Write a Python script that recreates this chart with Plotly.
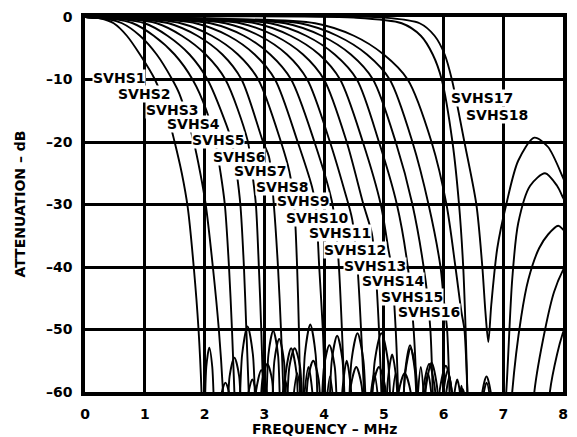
import plotly.graph_objects as go

# ---- axis ticks ----
FREQ_TICKS = [0, 1, 2, 3, 4, 5, 6, 7, 8]
ATT_TICKS = [-60, -50, -40, -30, -20, -10, 0]
ATT_TICK_LABELS = ["–60", "–50", "–40", "–30", "–20", "–10", "0"]

# ---- curve names ----
NAMES = ["SVHS%d" % i for i in range(1, 19)]

# ---- series: frequency (MHz) and attenuation (dB) ----
F1 = [0, 0.25, 0.48, 0.70, 0.92, 1.17, 1.35, 1.50, 1.62, 1.72, 1.82, 1.90, 1.95, 1.98, 2.03, 2.08, 2.13, 2.20, 2.27, 2.35, 2.43, 2.50]
DB1 = [0, -0.2, -1, -3, -6, -10, -14.5, -20, -25, -30.5, -40, -50, -60, -72, -56, -52.9, -56, -72, -61, -58.5, -61, -72]

F2 = [0, 0.35, 0.62, 0.92, 1.20, 1.46, 1.58, 1.82, 1.93, 2.02, 2.14, 2.24, 2.31, 2.36, 2.42, 2.50, 2.58, 2.64, 2.72, 2.80, 2.88, 2.94]
DB2 = [0, -0.3, -1, -3, -6, -10, -12.3, -20, -25, -30, -40, -50, -60, -72, -57.5, -54.5, -57.5, -72, -61, -58, -61, -72]

F3 = [0, 0.45, 0.80, 1.15, 1.50, 1.80, 2.03, 2.18, 2.27, 2.34, 2.41, 2.46, 2.50, 2.55, 2.63, 2.72, 2.81, 2.89, 2.97, 3.05, 3.13, 3.20, 3.28, 3.35, 3.42, 3.48]
DB3 = [0, -0.3, -1, -3, -6, -10, -14.9, -20, -25, -30, -40, -50, -60, -72, -54, -49.5, -54, -72, -58, -55.5, -58, -72, -62.5, -58, -62.5, -72]

F4 = [0, 0.55, 1.00, 1.38, 1.75, 2.05, 2.36, 2.46, 2.54, 2.60, 2.66, 2.70, 2.74, 2.78, 2.86, 2.95, 3.04, 3.10, 3.17, 3.25, 3.33, 3.40, 3.48, 3.55, 3.62, 3.68]
DB4 = [0, -0.3, -1, -3, -6, -10, -17.1, -20, -25, -30, -40, -50, -60, -72, -60, -56.5, -60, -72, -55, -51.5, -55, -72, -61.5, -57, -61.5, -72]

F5 = [0, 0.70, 1.20, 1.62, 2.02, 2.35, 2.72, 2.80, 2.86, 2.91, 2.95, 2.98, 3.01, 3.07, 3.15, 3.23, 3.29, 3.36, 3.45, 3.54, 3.60, 3.67, 3.74, 3.81, 3.86]
DB5 = [0, -0.3, -1, -3, -6, -10, -19.7, -25, -30, -40, -50, -60, -72, -54, -50.2, -54, -72, -57, -53, -57, -72, -60.5, -56, -60.5, -72]

F6 = [0, 0.85, 1.40, 1.88, 2.30, 2.62, 2.98, 3.08, 3.16, 3.23, 3.28, 3.32, 3.35, 3.42, 3.51, 3.60, 3.66, 3.73, 3.82, 3.91, 3.98, 4.04, 4.10, 4.16, 4.22]
DB6 = [0, -0.3, -1, -3, -6, -10, -20, -22.4, -30, -40, -50, -60, -72, -56, -53, -56, -72, -58, -55, -58, -72, -62, -57.5, -62, -72]

F7 = [0, 1.00, 1.60, 2.12, 2.56, 2.90, 3.28, 3.42, 3.50, 3.55, 3.58, 3.60, 3.62, 3.68, 3.77, 3.86, 3.92, 4.00, 4.09, 4.18, 4.25, 4.31, 4.38, 4.45, 4.50]
DB7 = [0, -0.3, -1, -3, -6, -10, -20, -24.7, -30, -40, -50, -60, -72, -54, -49.2, -54, -72, -56, -52.5, -56, -72, -59.5, -55, -59.5, -72]

F8 = [0, 1.15, 1.85, 2.40, 2.84, 3.18, 3.56, 3.80, 3.86, 3.92, 3.98, 4.02, 4.06, 4.13, 4.22, 4.31, 4.37, 4.45, 4.54, 4.63, 4.70, 4.77, 4.84, 4.91, 4.97]
DB8 = [0, -0.3, -1, -3, -6, -10, -20, -27.2, -30, -40, -50, -60, -72, -55, -51, -55, -72, -59, -56, -59, -72, -61.5, -57, -61.5, -72]

F9 = [0, 1.30, 2.10, 2.66, 3.10, 3.45, 3.84, 4.13, 4.20, 4.25, 4.30, 4.34, 4.38, 4.46, 4.56, 4.66, 4.74, 4.82, 4.92, 5.02, 5.08, 5.14, 5.20, 5.26, 5.32]
DB9 = [0, -0.3, -1, -3, -6, -10, -20, -29.4, -34, -40, -50, -60, -72, -55, -50.6, -55, -72, -59, -56, -59, -72, -61.5, -57, -61.5, -72]

F10 = [0, 1.45, 2.35, 2.92, 3.38, 3.72, 4.10, 4.35, 4.47, 4.56, 4.62, 4.67, 4.74, 4.85, 4.96, 5.07, 5.16, 5.25, 5.35, 5.45, 5.52, 5.57, 5.62, 5.67, 5.72]
DB10 = [0, -0.3, -1, -3, -6, -10, -20, -28, -32.3, -40, -50, -60, -72, -55, -50.6, -55, -72, -60, -57, -60, -72, -60.5, -56, -60.5, -72]

F11 = [0, 1.60, 2.60, 3.18, 3.65, 4.00, 4.38, 4.66, 4.80, 4.86, 4.92, 4.96, 5.00, 5.07, 5.14, 5.21, 5.28, 5.36, 5.44, 5.52, 5.60, 5.67, 5.74, 5.81, 5.86]
DB11 = [0, -0.3, -1, -3, -6, -10, -20, -30, -34.6, -40, -50, -60, -72, -58, -54, -58, -72, -56.5, -52.5, -56.5, -72, -61.5, -57, -61.5, -72]

F12 = [0, 1.75, 2.85, 3.44, 3.92, 4.27, 4.65, 4.95, 5.08, 5.13, 5.20, 5.24, 5.27, 5.36, 5.45, 5.54, 5.62, 5.71, 5.80, 5.89, 5.96, 6.02, 6.10, 6.16, 6.22]
DB12 = [0, -0.3, -1, -3, -6, -10, -20, -30, -37.3, -40, -50, -60, -72, -57, -53, -57, -72, -59, -55.3, -59, -72, -62, -57.5, -62, -72]

F13 = [0, 1.90, 3.10, 3.70, 4.18, 4.55, 4.92, 5.22, 5.40, 5.50, 5.55, 5.58, 5.67, 5.76, 5.85, 5.94, 6.00, 6.07, 6.14, 6.22, 6.26, 6.30, 6.34, 6.38]
DB13 = [0, -0.3, -1, -3, -6, -10, -20, -30, -39.8, -50, -60, -72, -59, -55.5, -59, -72, -60, -56.5, -60, -72, -62, -59, -62, -72]

F14 = [0, 2.05, 3.35, 3.96, 4.45, 4.82, 5.20, 5.48, 5.70, 5.78, 5.82, 5.86, 5.94, 6.04, 6.13, 6.20, 6.26, 6.32, 6.38, 6.44, 7.70, 7.78, 7.90, 8.00, 8.10]
DB14 = [0, -0.3, -1, -3, -6, -10, -20, -30, -42.2, -50, -60, -72, -59.5, -55.8, -59.5, -72, -62, -59.5, -62, -72, -72, -60, -54, -50.5, -48]

F15 = [0, 2.20, 3.60, 4.22, 4.72, 5.10, 5.48, 5.75, 5.95, 6.00, 6.06, 6.10, 6.13, 6.18, 6.23, 6.28, 6.33, 7.45, 7.52, 7.70, 7.85, 8.00, 8.10]
DB15 = [0, -0.3, -1, -3, -6, -10, -20, -30, -40, -44.8, -50, -60, -72, -60.5, -58, -60.5, -72, -72, -60, -50, -44, -40.5, -39]

F16 = [0, 2.40, 3.85, 4.50, 5.00, 5.40, 5.80, 6.05, 6.20, 6.30, 6.35, 6.40, 6.44, 6.58, 6.65, 6.72, 6.79, 6.86, 7.08, 7.15, 7.30, 7.42, 7.60, 7.75, 7.92, 8.00, 8.10]
DB16 = [0, -0.3, -1, -3, -6, -10, -20, -30, -40, -47.2, -50, -60, -72, -72, -60, -57.5, -60, -72, -72, -60, -48, -42, -37, -34.8, -33.4, -34, -35]

F17 = [0, 4.50, 5.30, 5.62, 5.82, 5.97, 6.15, 6.26, 6.33, 6.37, 6.40, 6.43, 6.60, 6.66, 6.72, 6.78, 6.85, 6.95, 7.05, 7.15, 7.25, 7.45, 7.70, 7.90, 8.00, 8.10]
DB17 = [0, -0.1, -1, -3, -6, -10, -20, -30, -40, -50, -60, -72, -72, -61, -58.5, -61, -72, -72, -60, -42, -33, -27, -25, -27, -28.9, -31]

F18 = [0, 5.00, 5.60, 5.85, 6.02, 6.14, 6.35, 6.55, 6.65, 6.70, 6.75, 6.80, 6.90, 7.05, 7.25, 7.52, 7.75, 8.00, 8.10]
DB18 = [0, -0.1, -1, -3, -6, -10, -20, -30, -40, -47, -52, -46, -37, -30, -23, -19.3, -20.8, -25.7, -28]

FREQS = [F1, F2, F3, F4, F5, F6, F7, F8, F9, F10, F11, F12, F13, F14, F15, F16, F17, F18]
ATTS = [DB1, DB2, DB3, DB4, DB5, DB6, DB7, DB8, DB9, DB10, DB11, DB12, DB13, DB14, DB15, DB16, DB17, DB18]

# label placement (data coordinates of label centres)
LABEL_X = [0.57, 0.98, 1.45, 1.82, 2.22, 2.57, 2.93, 3.30, 3.65, 3.88, 4.27, 4.52, 4.86, 5.15, 5.47, 5.75, 6.65, 6.90]
LABEL_Y = [-9.7, -12.3, -14.9, -17.1, -19.7, -22.4, -24.7, -27.2, -29.4, -32.2, -34.6, -37.3, -39.8, -42.2, -44.8, -47.2, -13.0, -15.7]

FONT = "DejaVu Sans"

fig = go.Figure()
for name, f, a in zip(NAMES, FREQS, ATTS):
    fig.add_trace(go.Scatter(
        x=f, y=a, mode="lines", name=name,
        line=dict(color="black", width=1.9, shape="spline", smoothing=0.8),
        hoverinfo="skip", showlegend=False,
    ))

annotations = []
for name, lx, ly in zip(NAMES, LABEL_X, LABEL_Y):
    annotations.append(dict(
        x=lx, y=ly, xref="x", yref="y", text=name, showarrow=False,
        xanchor="center", yanchor="middle", bgcolor="white", borderpad=0,
        font=dict(family=FONT, size=14, color="black", weight="bold"),
    ))
annotations.append(dict(
    x=0.5, y=0, xref="paper", yref="paper", text="FREQUENCY – MHz", showarrow=False,
    xanchor="center", yanchor="top", yshift=-27,
    font=dict(family=FONT, size=14, color="black", weight="bold"),
))
annotations.append(dict(
    x=0, y=0.5, xref="paper", yref="paper", text="ATTENUATION – dB", showarrow=False,
    textangle=-90, xanchor="right", yanchor="middle", xshift=-56,
    font=dict(family=FONT, size=14, color="black", weight="bold"),
))

fig.update_layout(
    width=577, height=437,
    margin=dict(l=85, r=12, t=9, b=45),
    paper_bgcolor="white", plot_bgcolor="white",
    font=dict(family=FONT, size=14, color="black", weight="bold"),
    showlegend=False, hovermode=False,
    annotations=annotations,
)
fig.update_xaxes(
    range=[0, 8], tickvals=FREQ_TICKS, ticks="", ticklabelstandoff=6,
    showgrid=True, gridcolor="black", gridwidth=2.5,
    showline=True, linecolor="black", linewidth=3.5, mirror=True, zeroline=False,
    tickfont=dict(family=FONT, size=14, color="black", weight="bold"),
)
fig.update_yaxes(
    range=[-60, 0], tickvals=ATT_TICKS, ticktext=ATT_TICK_LABELS, ticks="", ticklabelstandoff=6,
    showgrid=True, gridcolor="black", gridwidth=2.5,
    showline=True, linecolor="black", linewidth=3.5, mirror=True, zeroline=False,
    tickfont=dict(family=FONT, size=14, color="black", weight="bold"),
)

POST = ("document.body.style.margin='0';document.body.style.padding='0';"
        "var gd=document.getElementById('{plot_id}');"
        "gd.style.position='absolute';gd.style.left='0px';gd.style.top='0px';")
fig.write_html("out.html", post_script=POST, config={"displayModeBar": False})
